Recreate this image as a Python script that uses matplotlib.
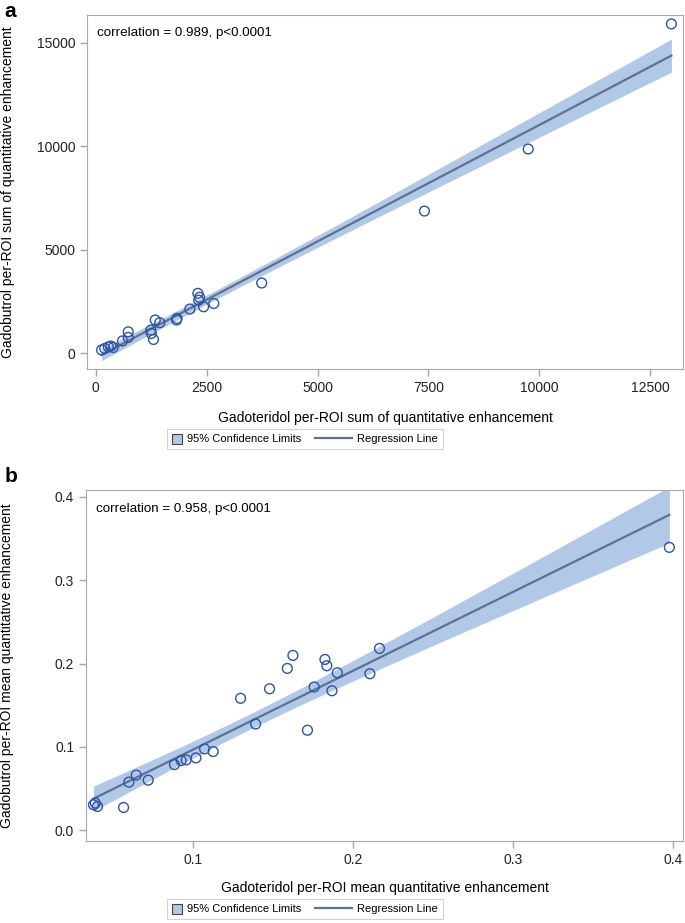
import numpy as np
import matplotlib
matplotlib.use("Agg")
import matplotlib.pyplot as plt
from matplotlib.patches import Patch, Rectangle
from matplotlib.lines import Line2D
from matplotlib.legend_handler import HandlerPatch

plt.rcParams['font.family'] = ['Liberation Sans', 'DejaVu Sans']

# panel a: per-ROI sum of quantitative enhancement
sum_gadoteridol = [130, 200, 280, 340, 390, 600, 730, 730, 1240, 1250, 1300, 1340, 1440,
                   1820, 1830, 2120, 2300, 2320, 2340, 2430, 2660, 3740, 7410, 9750, 12980]
sum_gadobutrol = [150, 220, 300, 340, 270, 590, 760, 1030, 1110, 950, 660, 1600, 1470,
                  1600, 1680, 2130, 2890, 2560, 2700, 2240, 2400, 3390, 6870, 9870, 15920]

# panel b: per-ROI mean quantitative enhancement
mean_gadoteridol = [0.0388, 0.0377, 0.0402, 0.0565, 0.0598, 0.0644, 0.0719, 0.0883, 0.0925,
                    0.0956, 0.1017, 0.1071, 0.1125, 0.1296, 0.1390, 0.1477, 0.1588, 0.1623,
                    0.1714, 0.1756, 0.1823, 0.1835, 0.1867, 0.1900, 0.2104, 0.2164, 0.3975]
mean_gadobutrol = [0.0326, 0.0305, 0.0285, 0.0273, 0.0577, 0.0661, 0.0601, 0.0788, 0.0836,
                   0.0844, 0.0868, 0.0976, 0.0944, 0.1583, 0.1275, 0.1698, 0.1942, 0.2098,
                   0.1200, 0.1719, 0.2050, 0.1974, 0.1674, 0.1890, 0.1878, 0.2182, 0.3395]

band_col = '#b2c8e7'
line_col = '#5d7195'
mark_col = '#2f53a5'
spine_col = '#a8a8a8'


def fit_with_ci(x, y, t_val):
    x = np.asarray(x, float)
    y = np.asarray(y, float)
    n = len(x)
    b, a = np.polyfit(x, y, 1)
    resid = y - (a + b * x)
    s = np.sqrt(np.sum(resid ** 2) / (n - 2))
    xs = np.linspace(x.min(), x.max(), 200)
    yh = a + b * xs
    se = s * np.sqrt(1 / n + (xs - x.mean()) ** 2 / np.sum((x - x.mean()) ** 2))
    return xs, yh, yh - t_val * se, yh + t_val * se


def draw_panel(ax, x, y, t_val, text):
    xs, yh, lo, hi = fit_with_ci(x, y, t_val)
    ax.fill_between(xs, lo, hi, color=band_col, lw=0, zorder=1)
    ax.plot(xs, yh, color=line_col, lw=1.6, zorder=2)
    ax.scatter(x, y, s=50, facecolors='none', edgecolors=mark_col, linewidths=1.0, zorder=3)
    ax.text(0.017, 0.965, text, transform=ax.transAxes, fontsize=9.6, va='top', ha='left')
    for sp in ax.spines.values():
        sp.set_color(spine_col)
    ax.tick_params(colors=spine_col, labelcolor='#222222', labelsize=10, length=5, width=1)


# square swatch for the confidence band entry
def square_patch(legend, orig_handle, xdescent, ydescent, width, height, fontsize):
    side = height * 1.05
    return Rectangle((width - side - xdescent, -ydescent - 0.05 * height), side, side)


# regression line entry, longer than the handle box (eats into column spacing)
class LongLine:
    def legend_artist(self, legend, orig_handle, fontsize, handlebox):
        w, h = handlebox.width, handlebox.height
        x0, y0 = handlebox.xdescent, handlebox.ydescent
        ln = Line2D([w - 3.3 * fontsize - x0, w - x0], [h / 2 - y0, h / 2 - y0],
                    color=orig_handle.get_color(), lw=orig_handle.get_linewidth())
        handlebox.add_artist(ln)
        return ln


fig = plt.figure(figsize=(6.85, 9.23), dpi=100)

ax1 = fig.add_axes([0.127, 0.6002, 0.870, 0.3835])
draw_panel(ax1, sum_gadoteridol, sum_gadobutrol, 2.069, 'correlation = 0.989, p<0.0001')
ax1.set_xlim(-200, 13240)
ax1.set_ylim(-770, 16350)
ax1.set_xticks([0, 2500, 5000, 7500, 10000, 12500])
ax1.set_yticks([0, 5000, 10000, 15000])
ax1.set_xlabel('Gadoteridol per-ROI sum of quantitative enhancement', fontsize=10)
ax1.set_ylabel('Gadobutrol per-ROI sum of quantitative enhancement', fontsize=10)
ax1.xaxis.set_label_coords(0.5, -0.119)
ax1.yaxis.set_label_coords(-0.121, 0.5)

ax2 = fig.add_axes([0.1255, 0.0888, 0.8715, 0.380])
draw_panel(ax2, mean_gadoteridol, mean_gadobutrol, 2.060, 'correlation = 0.958, p<0.0001')
ax2.set_xlim(0.033, 0.406)
ax2.set_ylim(-0.013, 0.408)
ax2.set_xticks([0.1, 0.2, 0.3, 0.4])
ax2.set_xticklabels(['0.1', '0.2', '0.3', '0.4'])
ax2.set_yticks([0.0, 0.1, 0.2, 0.3, 0.4])
ax2.set_yticklabels(['0.0', '0.1', '0.2', '0.3', '0.4'])
ax2.set_xlabel('Gadoteridol per-ROI mean quantitative enhancement', fontsize=10)
ax2.set_ylabel('Gadobutrol per-ROI mean quantitative enhancement', fontsize=10)
ax2.xaxis.set_label_coords(0.5, -0.114)
ax2.yaxis.set_label_coords(-0.120, 0.5)

band_handle = Patch(facecolor=band_col, edgecolor='#444444', lw=0.8)
line_handle = Line2D([0], [0], color=line_col, lw=1.6)
labels = ['95% Confidence Limits', 'Regression Line']
for yc in [1 - 439 / 923, 1 - 909 / 923]:
    leg = fig.legend([band_handle, line_handle], labels, loc='center',
                     bbox_to_anchor=(0.445, yc), ncol=2, fontsize=8.0, frameon=True,
                     fancybox=False, handlelength=0.9, handleheight=0.95, columnspacing=3.6,
                     handletextpad=0.5, borderpad=0.45,
                     handler_map={Patch: HandlerPatch(patch_func=square_patch),
                                  Line2D: LongLine()})
    leg.get_frame().set_edgecolor('#c8c8c8')
    leg.get_frame().set_linewidth(0.8)

fig.text(0.007, 0.988, 'a', fontsize=15, fontweight='bold', va='center')
fig.text(0.007, 1 - 476 / 923, 'b', fontsize=15, fontweight='bold', va='center')

fig.savefig('out.png', dpi=100)
